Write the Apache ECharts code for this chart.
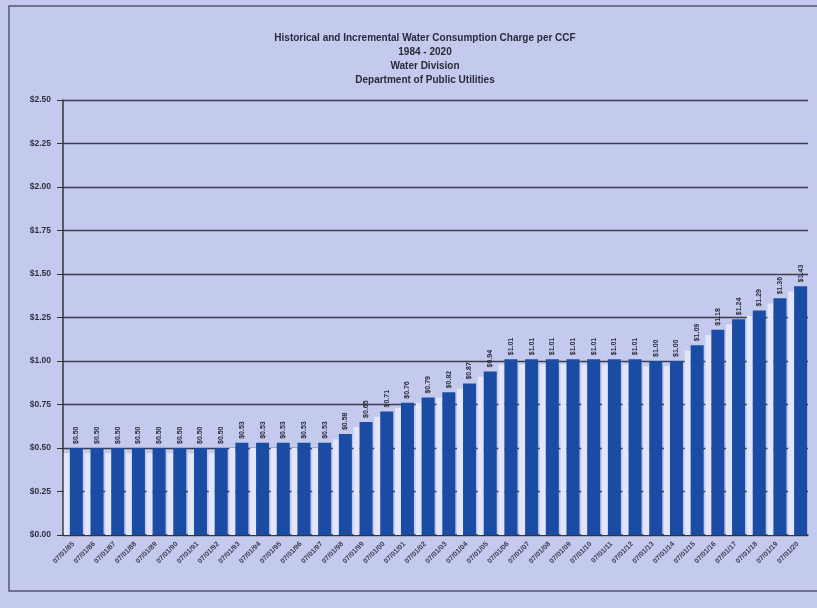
<!DOCTYPE html>
<html>
<head>
<meta charset="utf-8">
<script src="https://cdn.jsdelivr.net/npm/echarts@6/dist/echarts.min.js"></script>
<style>
  html, body { margin: 0; padding: 0; background: #c4c9ee; }
  #chart { width: 817px; height: 608px; }
</style>
</head>
<body>
<div id="chart"></div>
<script>
// Effective dates of each rate change
const categories = [
  '07/01/85', '07/01/86', '07/01/87', '07/01/88', '07/01/89', '07/01/90',
  '07/01/91', '07/01/92', '07/01/93', '07/01/94', '07/01/95', '07/01/96',
  '07/01/97', '07/01/98', '07/01/99', '07/01/00', '07/01/01', '07/01/02',
  '07/01/03', '07/01/04', '07/01/05', '07/01/06', '07/01/07', '07/01/08',
  '07/01/09', '07/01/10', '07/01/11', '07/01/12', '07/01/13', '07/01/14',
  '07/01/15', '07/01/16', '07/01/17', '07/01/18', '07/01/19', '07/01/20'
];

// Consumption charge per CCF, in dollars
const chargePerCcf = [
  0.50, 0.50, 0.50, 0.50, 0.50, 0.50, 0.50, 0.50,
  0.53, 0.53, 0.53, 0.53, 0.53,
  0.58, 0.65, 0.71, 0.76, 0.79, 0.82, 0.87, 0.94,
  1.01, 1.01, 1.01, 1.01, 1.01, 1.01, 1.01,
  1.00, 1.00, 1.09, 1.18, 1.24, 1.29, 1.36, 1.43
];

// Y-axis range
const yMin = 0;
const yMax = 2.5;
const yStep = 0.25;

const titleLines = [
  'Historical and Incremental Water Consumption Charge per CCF',
  '1984 - 2020',
  'Water Division',
  'Department of Public Utilities'
];

const money = v => '$' + v.toFixed(2);

const chart = echarts.init(document.getElementById('chart'), null, { renderer: 'canvas' });

const fontFamily = 'Liberation Sans, Arial, sans-serif';
const titleFont = { fontFamily, fontWeight: 'bold', fontSize: 10, color: '#2a2a3a' };

chart.setOption({
  backgroundColor: '#c4c9ee',
  animation: false,
  title: titleLines.map((t, i) => ({
    text: t,
    left: 420,
    top: 28 + i * 14,
    textAlign: 'center',
    textStyle: titleFont
  })),
  graphic: [
    {
      // page frame around the chart
      type: 'rect',
      shape: { x: 9, y: 6, width: 830, height: 585 },
      style: { fill: 'none', stroke: '#55576a', lineWidth: 1.5 },
      silent: true
    }
  ],
  grid: { left: 63, right: 9, top: 100, bottom: 73 },
  xAxis: {
    type: 'category',
    data: categories,
    axisLine: { lineStyle: { color: '#333', width: 1.5 } },
    axisTick: { show: false },
    axisLabel: {
      interval: 0,
      rotate: 45,
      fontSize: 7,
      fontWeight: 'bold',
      fontFamily,
      color: '#3a3d4a',
      margin: 8
    }
  },
  yAxis: {
    type: 'value',
    min: yMin,
    max: yMax,
    interval: yStep,
    axisLine: { show: true, lineStyle: { color: '#333', width: 1.5 } },
    axisTick: { show: true, length: 6, lineStyle: { color: '#333' } },
    axisLabel: {
      formatter: v => money(v),
      fontSize: 8.5,
      fontWeight: 'bold',
      fontFamily,
      color: '#2f3140',
      margin: 12
    },
    splitLine: { show: true, lineStyle: { color: '#3c3e4c', width: 1.3 } }
  },
  series: [
    {
      // pale side face of each 3-D column
      name: 'Side face',
      type: 'bar',
      data: chargePerCcf.map(v => v - 0.03),
      barWidth: 6,
      barGap: '0%',
      z: 2,
      itemStyle: { color: '#e2e6f8' },
      silent: true
    },
    {
      name: 'Charge per CCF',
      type: 'bar',
      data: chargePerCcf,
      barWidth: 13,
      z: 3,
      itemStyle: { color: '#1b4ca3' },
      label: {
        show: true,
        position: 'top',
        rotate: 90,
        align: 'left',
        verticalAlign: 'middle',
        distance: 4,
        formatter: p => money(p.value),
        fontSize: 7,
        fontWeight: 'bold',
        fontFamily,
        color: '#2a2c38'
      }
    }
  ]
});
</script>
</body>
</html>
